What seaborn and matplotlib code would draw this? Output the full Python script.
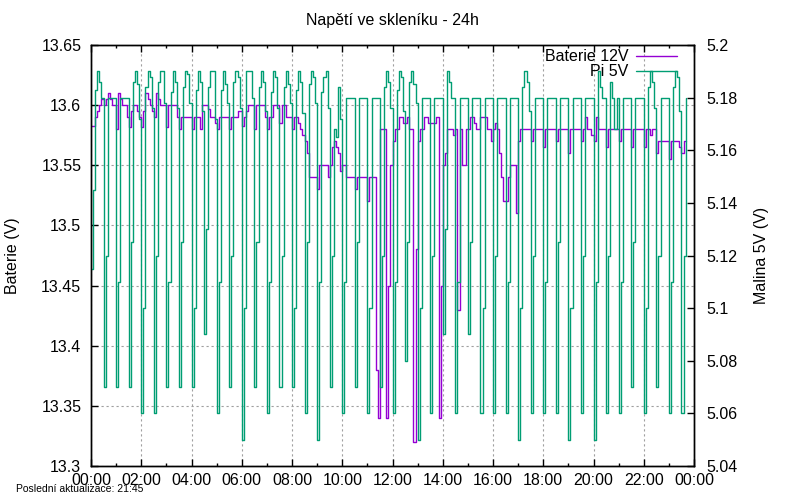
import numpy as np
import pandas as pd
import matplotlib
matplotlib.use("Agg")
import matplotlib.pyplot as plt
from matplotlib.ticker import FixedLocator, MultipleLocator, FuncFormatter
from matplotlib.lines import Line2D
import seaborn as sns

sns.set_theme(style="white")
plt.rcParams["font.family"] = ["Liberation Sans", "DejaVu Sans"]
plt.rcParams.update({
    "axes.edgecolor": "black",
    "axes.linewidth": 1.0,
    "xtick.color": "black",
    "ytick.color": "black",
    "text.color": "black",
    "axes.labelcolor": "black",
})

TITLE = "Napětí ve skleníku - 24h"
FOOTER = "Poslední aktualizace: 21:45"
LEFT_LABEL = "Baterie (V)"
RIGHT_LABEL = "Malina 5V (V)"
SERIES_NAMES = ["Baterie 12V", "Pi 5V"]

STEP_MIN = 5  # one reading every 5 minutes, from 00:00

# battery 12V, millivolts, one row per hour
battery_mv = [
    13583, 13583, 13590, 13595, 13600, 13605, 13600, 13605, 13610, 13605, 13600, 13600,
    13580, 13610, 13605, 13600, 13600, 13590, 13582, 13595, 13600, 13600, 13595, 13590,
    13582, 13595, 13610, 13605, 13600, 13595, 13590, 13610, 13605, 13600, 13600, 13600,
    13582, 13600, 13600, 13600, 13600, 13590, 13580, 13590, 13590, 13590, 13590, 13590,
    13580, 13590, 13590, 13590, 13580, 13600, 13600, 13600, 13597, 13590, 13590, 13585,
    13580, 13590, 13590, 13590, 13590, 13590, 13580, 13590, 13590, 13590, 13595, 13595,
    13583, 13590, 13595, 13600, 13600, 13600, 13580, 13600, 13600, 13600, 13600, 13590,
    13580, 13590, 13590, 13600, 13600, 13600, 13585, 13600, 13600, 13590, 13590, 13590,
    13580, 13590, 13590, 13585, 13580, 13575, 13570, 13560, 13540, 13540, 13540, 13540,
    13530, 13550, 13550, 13550, 13550, 13540, 13550, 13565, 13570, 13565, 13560, 13545,
    13550, 13550, 13540, 13540, 13540, 13540, 13530, 13540, 13540, 13540, 13540, 13540,
    13520, 13540, 13540, 13540, 13380, 13340, 13580, 13580, 13580, 13340, 13450, 13550,
    13570, 13580, 13580, 13590, 13590, 13585, 13585, 13590, 13580, 13580, 13320, 13480,
    13570, 13580, 13580, 13590, 13590, 13585, 13585, 13585, 13585, 13590, 13340, 13450,
    13550, 13560, 13580, 13580, 13580, 13575, 13580, 13430, 13580, 13550, 13550, 13580,
    13580, 13590, 13590, 13585, 13580, 13580, 13590, 13590, 13590, 13580, 13580, 13570,
    13580, 13585, 13580, 13560, 13540, 13520, 13520, 13540, 13550, 13550, 13550, 13510,
    13570, 13580, 13580, 13580, 13580, 13580, 13570, 13580, 13580, 13580, 13580, 13580,
    13565, 13580, 13580, 13580, 13580, 13580, 13570, 13580, 13580, 13580, 13580, 13580,
    13560, 13580, 13580, 13580, 13580, 13580, 13570, 13580, 13590, 13580, 13580, 13575,
    13570, 13590, 13580, 13580, 13580, 13580, 13565, 13580, 13580, 13580, 13580, 13580,
    13570, 13580, 13580, 13580, 13580, 13580, 13565, 13580, 13580, 13580, 13580, 13580,
    13565, 13580, 13580, 13575, 13580, 13580, 13560, 13570, 13570, 13570, 13570, 13570,
    13555, 13570, 13570, 13570, 13570, 13565, 13560, 13570, 13570,
]

# raspberry pi 5V, millivolts, one row per hour
pi_mv = [
    5115, 5145, 5183, 5190, 5186, 5180, 5070, 5120, 5180, 5180, 5180, 5180,
    5070, 5110, 5180, 5180, 5180, 5180, 5070, 5125, 5186, 5190, 5185, 5172,
    5060, 5100, 5184, 5190, 5188, 5176, 5060, 5120, 5186, 5190, 5190, 5178,
    5070, 5110, 5182, 5190, 5186, 5176, 5070, 5125, 5184, 5190, 5189, 5178,
    5070, 5100, 5183, 5190, 5186, 5175, 5090, 5130, 5184, 5190, 5190, 5172,
    5060, 5110, 5183, 5190, 5185, 5178, 5070, 5120, 5186, 5190, 5188, 5176,
    5050, 5100, 5190, 5190, 5190, 5180, 5070, 5125, 5184, 5190, 5186, 5175,
    5060, 5110, 5182, 5190, 5188, 5176, 5070, 5120, 5184, 5190, 5185, 5178,
    5070, 5100, 5183, 5190, 5186, 5174, 5060, 5125, 5185, 5190, 5188, 5178,
    5050, 5110, 5182, 5188, 5190, 5176, 5070, 5120, 5168, 5165, 5184, 5172,
    5060, 5110, 5180, 5180, 5180, 5180, 5070, 5125, 5180, 5180, 5180, 5180,
    5060, 5100, 5180, 5180, 5180, 5180, 5070, 5120, 5184, 5190, 5186, 5176,
    5060, 5110, 5183, 5190, 5188, 5175, 5080, 5125, 5186, 5190, 5185, 5178,
    5050, 5100, 5180, 5180, 5180, 5180, 5060, 5120, 5180, 5180, 5180, 5180,
    5090, 5130, 5190, 5186, 5180, 5180, 5060, 5110, 5180, 5180, 5180, 5180,
    5090, 5125, 5180, 5180, 5180, 5180, 5060, 5100, 5180, 5180, 5180, 5180,
    5060, 5120, 5180, 5180, 5180, 5180, 5060, 5110, 5180, 5180, 5180, 5180,
    5050, 5100, 5184, 5190, 5186, 5175, 5060, 5120, 5180, 5180, 5180, 5180,
    5060, 5110, 5180, 5180, 5180, 5180, 5060, 5125, 5180, 5180, 5180, 5180,
    5050, 5100, 5180, 5180, 5180, 5180, 5060, 5120, 5180, 5180, 5180, 5180,
    5050, 5110, 5190, 5184, 5180, 5180, 5060, 5120, 5186, 5180, 5168, 5180,
    5060, 5110, 5180, 5180, 5180, 5180, 5070, 5125, 5180, 5180, 5180, 5180,
    5060, 5100, 5184, 5190, 5186, 5176, 5070, 5120, 5180, 5180, 5180, 5180,
    5060, 5110, 5184, 5190, 5188, 5175, 5060, 5120, 5180,
]

hour_ticks = [0, 2, 4, 6, 8, 10, 12, 14, 16, 18, 20, 22, 24]
hour_labels = ["00:00", "02:00", "04:00", "06:00", "08:00", "10:00", "12:00",
               "14:00", "16:00", "18:00", "20:00", "22:00", "00:00"]
left_ticks = [13.3, 13.35, 13.4, 13.45, 13.5, 13.55, 13.6, 13.65]
right_ticks = [5.04, 5.06, 5.08, 5.1, 5.12, 5.14, 5.16, 5.18, 5.2]

PURPLE = "#9400d3"
GREEN = "#009e73"
GRID = "#a0a0a0"

df = pd.DataFrame({
    "hour": np.arange(len(battery_mv)) * STEP_MIN / 60,
    "battery": np.array(battery_mv) / 1000,
    "pi": np.array(pi_mv) / 1000,
})

fig = plt.figure(figsize=(8, 5), dpi=100)
ax1 = fig.add_axes([91 / 800, 34 / 500, 603 / 800, 421 / 500])

sns.lineplot(data=df, x="hour", y="battery", ax=ax1, color=PURPLE,
             linewidth=1.0, drawstyle="steps-post")
ax2 = ax1.twinx()
sns.lineplot(data=df, x="hour", y="pi", ax=ax2, color=GREEN,
             linewidth=1.0, drawstyle="steps-post")

fmt = FuncFormatter(lambda v, p: f"{round(v, 3):g}")

ax1.set_xlim(0, 24)
ax1.set_ylim(left_ticks[0], left_ticks[-1])
ax2.set_ylim(right_ticks[0], right_ticks[-1])

ax1.xaxis.set_major_locator(FixedLocator(hour_ticks))
ax1.set_xticklabels(hour_labels)
ax1.xaxis.set_minor_locator(MultipleLocator(1))
ax1.yaxis.set_major_locator(FixedLocator(left_ticks))
ax1.yaxis.set_major_formatter(fmt)
ax2.yaxis.set_major_locator(FixedLocator(right_ticks))
ax2.yaxis.set_major_formatter(fmt)

ax1.tick_params(axis="x", which="both", direction="in", top=True, bottom=True,
                labelsize=11.5, pad=5)
ax1.tick_params(axis="x", which="major", length=5, width=1)
ax1.tick_params(axis="x", which="minor", length=2.5, width=1)
ax1.tick_params(axis="y", direction="in", left=True, right=False,
                length=5, width=1, labelsize=11.5, pad=7)
ax2.tick_params(axis="y", direction="in", right=True, left=False,
                length=5, width=1, labelsize=11.5, pad=9)

ax1.grid(True, which="major", color=GRID, linestyle=(0, (2, 2.5)), linewidth=0.8)
ax2.grid(False)
ax1.set_axisbelow(True)

ax1.set_xlabel("")
ax1.set_ylabel(LEFT_LABEL, fontsize=11.5)
ax2.set_ylabel(RIGHT_LABEL, fontsize=11.5)
ax1.yaxis.set_label_coords(-0.118, 0.5)
ax2.yaxis.set_label_coords(1.0995, 0.5)

for ax in (ax1, ax2):
    for s in ax.spines.values():
        s.set_visible(True)
        s.set_color("black")
        s.set_linewidth(1.0)

handles = [Line2D([], [], color=PURPLE, linewidth=1.0),
           Line2D([], [], color=GREEN, linewidth=1.0)]
ax2.legend(handles, SERIES_NAMES, loc="upper right", bbox_to_anchor=(0.972, 0.99),
           markerfirst=False, frameon=False, fontsize=11.5, handlelength=2.6,
           handletextpad=0.45, labelspacing=0.0, borderpad=0, borderaxespad=0)

fig.text(392.5 / 800, 1 - 20 / 500, TITLE, ha="center", va="center", fontsize=11.5)
fig.text(16 / 800, 1 - 489 / 500, FOOTER, ha="left", va="center", fontsize=7.5)

fig.savefig("out.png", dpi=100)
